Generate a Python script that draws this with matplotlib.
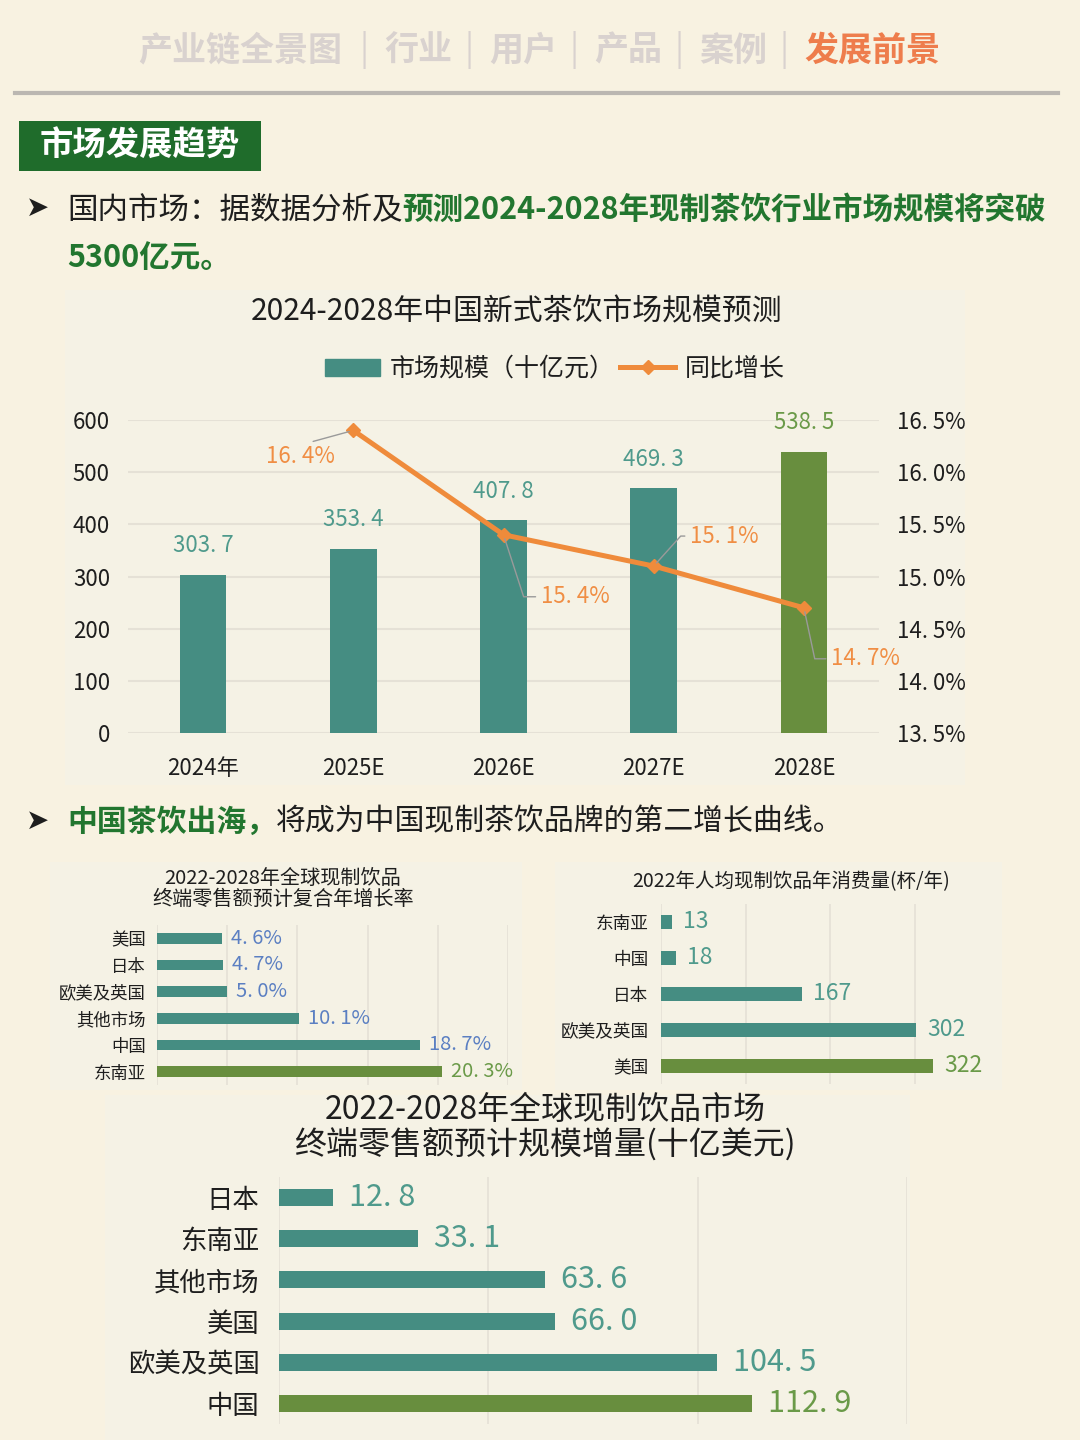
import numpy as np
import matplotlib
matplotlib.use('Agg')
import matplotlib.pyplot as plt
from matplotlib.patches import Rectangle, Patch
from matplotlib.lines import Line2D

plt.rcParams['font.family'] = ['Noto Sans CJK SC', 'DejaVu Sans']

# ---- data ----
years = ['2024年', '2025E', '2026E', '2027E', '2028E']
market_size = [303.7, 353.4, 407.8, 469.3, 538.5]
growth = [np.nan, 16.4, 15.4, 15.1, 14.7]

cagr_regions = ['美国', '日本', '欧美及英国', '其他市场', '中国', '东南亚']
cagr_values = [4.6, 4.7, 5.0, 10.1, 18.7, 20.3]

cups_regions = ['东南亚', '中国', '日本', '欧美及英国', '美国']
cups_values = [13, 18, 167, 302, 322]

incr_regions = ['日本', '东南亚', '其他市场', '美国', '欧美及英国', '中国']
incr_values = [12.8, 33.1, 63.6, 66.0, 104.5, 112.9]

nav_items = ['产业链全景图', '行业', '用户', '产品', '案例']
nav_active = '发展前景'

# ---- colours ----
BG = '#F8F2E1'
PANEL = '#F5F2E5'
TEAL = '#458D82'
BAR_GREEN = '#688E3E'
TEAL_TXT = '#4F9A8C'
GREEN_TXT = '#6A9A48'
ORANGE = '#EF8B3B'
ORANGE_TXT = '#F08E44'
BLUE_TXT = '#5B7FC2'
DARK_GREEN = '#22762F'
GRID = '#E5E1D6'
INK = '#1E1E1E'

W, H = 1080, 1440


def fx(x):
    return x / W


def fy(y):
    return 1 - y / H


def box(x0, y0, x1, y1):
    return [x0 / W, 1 - y1 / H, (x1 - x0) / W, (y1 - y0) / H]


def fmt(v, nd=1):
    return f'{v:.{nd}f}'.replace('.', '. ')


def panel(x0, y0, x1, y1):
    fig.add_artist(Rectangle((fx(x0), fy(y1)), (x1 - x0) / W, (y1 - y0) / H,
                             transform=fig.transFigure, color=PANEL, zorder=0, lw=0))


def clean(ax):
    for s in ax.spines.values():
        s.set_visible(False)
    ax.set_facecolor('none')


fig = plt.figure(figsize=(10.8, 14.4), dpi=100)
fig.patch.set_facecolor(BG)
renderer = fig.canvas.get_renderer()

# ---- header ----
nav_x = [138, 384, 489, 594, 699]
sep_x = [364, 469, 574, 679, 784]
for name, x in zip(nav_items, nav_x):
    fig.text(fx(x), fy(50), name, fontsize=24.5, color='#D9D2CF', weight='bold', va='center')
for x in sep_x:
    fig.text(fx(x), fy(50), '|', fontsize=24.5, color='#D9D2CF', ha='center', va='center')
fig.text(fx(804), fy(50), nav_active, fontsize=24.5, color='#EE7D4C', weight='bold', va='center')
fig.add_artist(Line2D([fx(15), fx(1058)], [fy(93), fy(93)], color='#BBB7B1', lw=3,
                      transform=fig.transFigure))

fig.add_artist(Rectangle((fx(19), fy(171)), 242 / W, 50 / H, transform=fig.transFigure,
                         color='#1F6C2B', lw=0))
fig.text(fx(140), fy(146), '市场发展趋势', fontsize=24, color='white', weight='bold',
         ha='center', va='center')


def rich_line(x, y, parts, size=22):
    for txt, col, wt in parts:
        t = fig.text(fx(x), fy(y), txt, fontsize=size, color=col, weight=wt, va='center')
        bb = t.get_window_extent(renderer)
        x = bb.x1 * W / fig.bbox.width


fig.text(fx(38), fy(208), '➤', family='DejaVu Sans', fontsize=20, color=INK,
         ha='center', va='center')
rich_line(67, 210, [('国内市场：据数据分析及', INK, 'normal'),
                    ('预测2024-2028年现制茶饮行业市场规模将突破', DARK_GREEN, 'bold')])
rich_line(67, 258, [('5300亿元。', DARK_GREEN, 'bold')])

fig.text(fx(38), fy(821), '➤', family='DejaVu Sans', fontsize=20, color=INK,
         ha='center', va='center')
rich_line(67, 822, [('中国茶饮出海，', DARK_GREEN, 'bold'),
                    ('将成为中国现制茶饮品牌的第二增长曲线。', INK, 'normal')], size=21.5)

# ---- panels ----
panel(65, 290, 965, 785)
panel(50, 862, 522, 1090)
panel(555, 862, 1002, 1090)
panel(105, 1095, 910, 1440)

# ---- main combo chart ----
fig.text(fx(517), fy(312), '2024-2028年中国新式茶饮市场规模预测', fontsize=21.5, color=INK,
         ha='center', va='center')

ax = fig.add_axes(box(128, 420, 879, 733))
clean(ax)
x = np.arange(len(years))
bar_cols = [TEAL] * (len(years) - 1) + [BAR_GREEN]
ax.bar(x, market_size, width=0.31, color=bar_cols, zorder=2)
ax.set_xlim(-0.5, len(years) - 0.5)
ax.set_ylim(0, 600)
ax.set_yticks(np.arange(0, 601, 100))
ax.set_xticks(x)
ax.set_xticklabels(years)
ax.grid(axis='y', color=GRID, lw=1.5)
ax.set_axisbelow(True)
ax.tick_params(axis='y', length=0, labelsize=16, pad=13, labelcolor=INK)
ax.tick_params(axis='x', length=0, labelsize=16, pad=17, labelcolor=INK)
for i, v in enumerate(market_size):
    ax.annotate(fmt(v), (i, v), xytext=(0, 21), textcoords='offset points',
                ha='center', va='center', fontsize=16,
                color=GREEN_TXT if i == len(years) - 1 else TEAL_TXT)

ax2 = ax.twinx()
clean(ax2)
ax2.set_ylim(13.5, 16.5)
rt = np.arange(13.5, 16.51, 0.5)
ax2.set_yticks(rt)
ax2.set_yticklabels([fmt(t) + '%' for t in rt])
ax2.tick_params(axis='y', length=0, labelsize=16, pad=13, labelcolor=INK)
ax2.plot(x, growth, color=ORANGE, lw=3.6, marker='D', ms=7, zorder=3)

# label offsets (pixels) and leader line shapes
lab_off = [None, (-53, -26), (72, -62), (71, 30), (62, -51)]
lab_conn = [None, 'arc3', 'angle,angleA=0,angleB=108', 'angle,angleA=0,angleB=48',
            'angle,angleA=0,angleB=102']
lab_rel = [None, (0.5, 1.0), (0, 0.5), (0, 0.5), (0, 0.5)]
for i, g in enumerate(growth):
    if np.isnan(g):
        continue
    ax2.annotate(fmt(g) + '%', (i, g), xytext=lab_off[i], textcoords='offset pixels',
                 ha='center', va='center', fontsize=16, color=ORANGE_TXT,
                 arrowprops=dict(arrowstyle='-', color='#9A9A9A', lw=1,
                                 connectionstyle=lab_conn[i], relpos=lab_rel[i],
                                 shrinkA=2, shrinkB=3))

ax.legend(handles=[Patch(color=TEAL),
                   Line2D([], [], color=ORANGE, lw=3.6, marker='D', ms=7)],
          labels=['市场规模（十亿元）', '同比增长'], loc='center',
          bbox_to_anchor=(fx(555), fy(369)), bbox_transform=fig.transFigure,
          ncol=2, frameon=False, fontsize=18, handlelength=2.2,
          handletextpad=0.4, columnspacing=0.2, labelcolor=INK)


# ---- horizontal bar charts ----
def hbars(rect, cats, vals, xmax, step, hgt, lab_size, cat_size, cat_pad, off,
          lab_col, fmt_fn):
    a = fig.add_axes(rect)
    clean(a)
    y = np.arange(len(cats))
    cols = [TEAL] * (len(cats) - 1) + [BAR_GREEN]
    a.barh(y, vals, height=hgt, color=cols, zorder=2)
    a.set_ylim(len(cats) - 0.5, -0.5)
    a.set_xlim(0, xmax)
    a.set_xticks(np.arange(0, xmax + 0.01, step))
    a.set_xticklabels([])
    a.set_yticks(y)
    a.set_yticklabels(cats)
    a.grid(axis='x', color=GRID, lw=1.2)
    a.set_axisbelow(True)
    a.tick_params(length=0)
    a.tick_params(axis='y', labelsize=cat_size, pad=cat_pad, labelcolor=INK)
    for i, v in enumerate(vals):
        a.annotate(fmt_fn(v), (v, i), xytext=(off, 0), textcoords='offset pixels',
                   ha='left', va='center', fontsize=lab_size,
                   color=GREEN_TXT if i == len(cats) - 1 else lab_col)
    return a


fig.text(fx(283), fy(889), '2022-2028年全球现制饮品\n终端零售额预计复合年增长率',
         fontsize=14.5, color=INK, ha='center', va='center', linespacing=1.05)
hbars(box(157, 925, 508, 1085), cagr_regions, cagr_values, 25, 5, 0.41, 14.5, 12.5, 8,
      9, BLUE_TXT, lambda v: fmt(v) + '%')

fig.text(fx(791), fy(882), '2022年人均现制饮品年消费量(杯/年)', fontsize=14, color=INK,
         ha='center', va='center')
a4 = hbars(box(661, 904, 999, 1084), cups_regions, cups_values, 400, 100, 0.39, 16.5,
           12.7, 9, 11, TEAL_TXT, lambda v: f'{v:d}')
a4.set_xticks([0, 100, 200, 300])
a4.set_xticklabels([])

fig.text(fx(545), fy(1127), '2022-2028年全球现制饮品市场\n终端零售额预计规模增量(十亿美元)',
         fontsize=23, color=INK, ha='center', va='center', linespacing=1.05)
hbars(box(279, 1177, 907, 1424), incr_regions, incr_values, 150, 50, 0.41, 22, 19, 14,
      16, TEAL_TXT, lambda v: fmt(v))

fig.savefig('out.png', dpi=100, facecolor=BG)
